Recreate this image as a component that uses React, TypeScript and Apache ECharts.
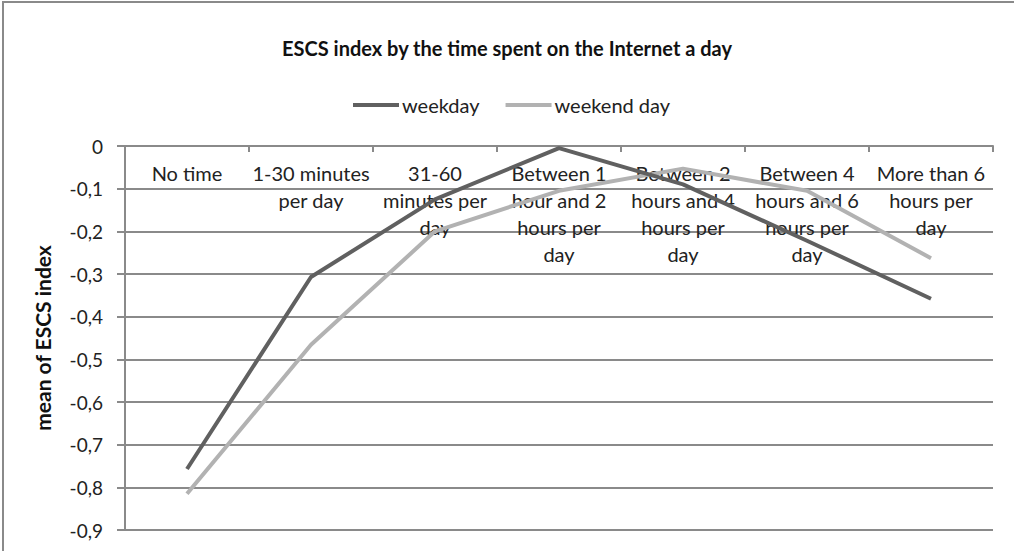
import React, { useEffect, useRef } from "react";
import * as echarts from "echarts";

const categories = [
  "No time",
  "1-30 minutes per day",
  "31-60 minutes per day",
  "Between 1 hour and 2 hours per day",
  "Between 2 hours and 4 hours per day",
  "Between 4 hours and 6 hours per day",
  "More than 6 hours per day",
];
// Category labels as wrapped in the reference
const categoryLabels = [
  "No time",
  "1-30 minutes\nper day",
  "31-60\nminutes per\nday",
  "Between 1\nhour and 2\nhours per\nday",
  "Between 2\nhours and 4\nhours per\nday",
  "Between 4\nhours and 6\nhours per\nday",
  "More than 6\nhours per\nday",
];
const weekday = [-0.757, -0.307, -0.125, -0.005, -0.09, -0.222, -0.358];
const weekendDay = [-0.815, -0.466, -0.2, -0.105, -0.053, -0.105, -0.263];
const seriesNames = ["weekday", "weekend day"];
const titleText = "ESCS index by the time spent on the Internet a day";
const yAxisName = "mean of ESCS index";

const FONT = "Lato, 'Open Sans', sans-serif";

export default function App() {
  const ref = useRef<HTMLDivElement>(null);
  useEffect(() => {
    if (!ref.current) return;
    const chart = echarts.init(ref.current, undefined, { renderer: "svg" });
    chart.setOption({
      animation: false,
      backgroundColor: "#ffffff",
      textStyle: { fontFamily: FONT },
      title: {
        text: titleText,
        left: "center",
        top: 33,
        textStyle: { fontFamily: FONT, fontSize: 20, fontWeight: "bold", color: "#111" },
      },
      legend: {
        top: 90,
        left: 348,
        itemWidth: 46,
        itemHeight: 4,
        itemGap: 26,
        icon: "rect",
        textStyle: { fontFamily: FONT, fontSize: 20, color: "#222", padding: [0, 0, 0, -2] },
        data: seriesNames,
      },
      graphic: [
        {
          type: "rect",
          shape: { x: 3, y: 2, width: 1200, height: 700 },
          style: { fill: "none", stroke: "#8a8a8a", lineWidth: 2 },
          silent: true,
        },
      ],
      grid: { left: 125, right: 21, top: 146, bottom: 21, containLabel: false },
      xAxis: {
        type: "category",
        data: categories,
        position: "top",
        boundaryGap: true,
        axisLine: { show: true, lineStyle: { color: "#8a8a8a", width: 2 } },
        axisTick: { show: true, inside: true, length: 6, lineStyle: { color: "#8a8a8a", width: 2 } },
        axisLabel: {
          inside: true,
          interval: 0,
          margin: 13,
          lineHeight: 27,
          fontFamily: FONT,
          fontSize: 20,
          color: "#222",
          verticalAlign: "top",
          formatter: (_v: string, i: number) => categoryLabels[i],
        },
        splitLine: { show: false },
      },
      yAxis: {
        type: "value",
        min: -0.9,
        max: 0,
        interval: 0.1,
        name: yAxisName,
        nameLocation: "middle",
        nameGap: 72,
        nameRotate: 90,
        nameTextStyle: { fontFamily: FONT, fontSize: 21, fontWeight: "bold", color: "#111" },
        axisLine: { show: true, lineStyle: { color: "#8a8a8a", width: 2 } },
        axisTick: { show: true, length: 8, lineStyle: { color: "#8a8a8a", width: 2 } },
        axisLabel: {
          margin: 22,
          fontFamily: FONT,
          fontSize: 19,
          color: "#222",
          formatter: (v: number) => {
            const r = Math.round(v * 10) / 10;
            return r === 0 ? "0" : r.toFixed(1).replace(".", ",");
          },
        },
        splitLine: { show: true, lineStyle: { color: "#8a8a8a", width: 2 } },
      },
      series: [
        {
          name: seriesNames[0],
          type: "line",
          data: weekday,
          symbol: "none",
          color: "#606060",
          lineStyle: { width: 4, color: "#606060" },
          z: 3,
        },
        {
          name: seriesNames[1],
          type: "line",
          data: weekendDay,
          symbol: "none",
          color: "#b2b2b2",
          lineStyle: { width: 4, color: "#b2b2b2" },
          z: 2,
        },
      ],
    });
    return () => chart.dispose();
  }, []);
  return (
    <div
      ref={ref}
      style={{ position: "fixed", left: 0, top: 0, width: 1014, height: 551 }}
    />
  );
}
